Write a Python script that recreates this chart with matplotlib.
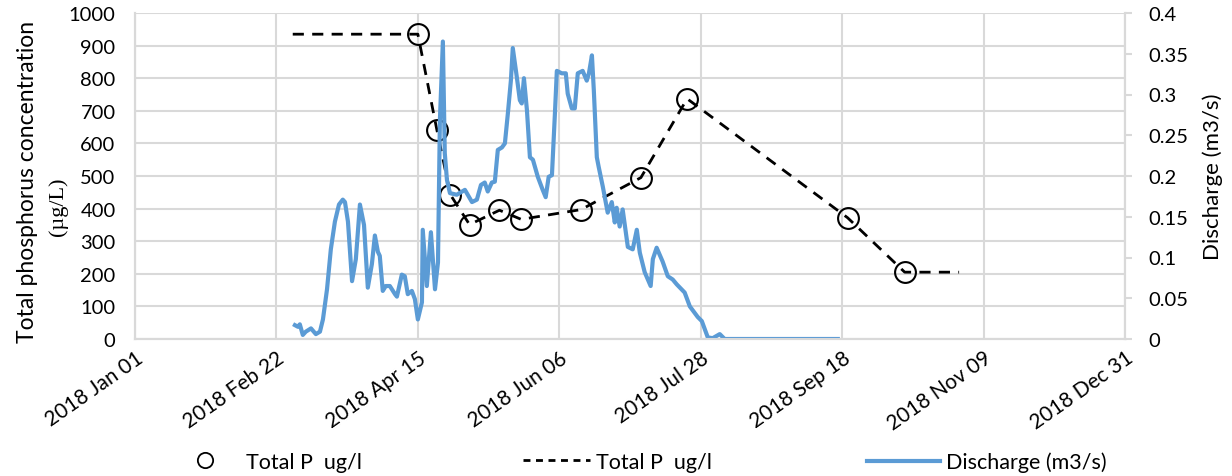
import matplotlib
matplotlib.use("Agg")
import matplotlib.pyplot as plt
import matplotlib.dates as mdates
from matplotlib.lines import Line2D
import numpy as np
import pandas as pd

plt.rcParams['font.family'] = ['Lato', 'DejaVu Sans']

# ---- data ----
start = pd.Timestamp("2018-01-01")

# total phosphorus samples (ug/l)
tp_dates = ["2018-04-15", "2018-04-22", "2018-04-27", "2018-05-04", "2018-05-15",
            "2018-05-23", "2018-06-14", "2018-07-06", "2018-07-23", "2018-09-20",
            "2018-10-11"]
tp_values = [935, 641, 442, 351, 395, 367, 397, 495, 737, 372, 205]

# dashed line: same samples plus flat ends
tp_line_dates = ["2018-02-28"] + tp_dates + ["2018-10-31"]
tp_line_values = [935] + tp_values + [205]

# discharge (m3/s), day offset from Jan 01
q_day = [58.8, 59.9, 60.6, 61.7, 62.8, 64.7, 66.5, 68.0, 69.1, 70.6, 72.0, 73.5,
         75.0, 76.4, 77.2, 78.3, 79.8, 81.2, 82.7, 84.2, 85.6, 87.1, 88.2, 89.3,
         90.0, 91.1, 92.2, 93.7, 95.6, 96.3, 98.1, 99.2, 100.3, 101.8, 102.9, 104.0,
         105.5, 105.8, 107.3, 108.8, 110.3, 111.4, 112.1, 113.2, 113.9, 114.7, 115.8,
         118.3, 121.3, 123.9, 125.7, 127.2, 128.6, 129.7, 131.2, 132.3, 133.4, 134.9,
         136.0, 137.1, 138.2, 138.9, 140.4, 141.5, 142.2, 143.0, 144.1, 145.2, 146.3,
         148.1, 149.9, 151.0, 152.1, 153.3, 154.4, 155.1, 156.9, 158.4, 159.1, 160.6,
         161.7, 162.8, 164.6, 166.1, 166.9, 168.0, 168.7, 169.8, 170.5, 172.0, 173.8,
         175.3, 176.4, 177.1, 178.2, 179.3, 181.2, 183.0, 184.5, 185.6, 187.4, 189.6,
         190.4, 191.8, 194.0, 195.9, 197.7, 199.2, 202.1, 204.0, 206.9, 208.4, 210.6,
         212.4, 215.0, 216.8, 258.4]
q_val = [0.017, 0.015, 0.018, 0.005, 0.009, 0.013, 0.006, 0.009, 0.024, 0.061, 0.110, 0.144,
         0.165, 0.171, 0.168, 0.144, 0.071, 0.098, 0.165, 0.140, 0.063, 0.092, 0.127, 0.107,
         0.102, 0.059, 0.065, 0.065, 0.055, 0.052, 0.079, 0.077, 0.055, 0.059, 0.049, 0.024,
         0.045, 0.134, 0.065, 0.131, 0.061, 0.094, 0.268, 0.365, 0.228, 0.195, 0.179,
         0.177, 0.183, 0.168, 0.171, 0.189, 0.192, 0.181, 0.192, 0.193, 0.232, 0.235,
         0.240, 0.277, 0.317, 0.357, 0.321, 0.293, 0.289, 0.320, 0.281, 0.223, 0.220,
         0.199, 0.183, 0.174, 0.199, 0.201, 0.277, 0.329, 0.326, 0.326, 0.301, 0.283,
         0.283, 0.326, 0.329, 0.317, 0.326, 0.348, 0.305, 0.223, 0.211, 0.187, 0.155,
         0.168, 0.143, 0.161, 0.138, 0.159, 0.113, 0.110, 0.134, 0.106, 0.082, 0.065,
         0.098, 0.112, 0.095, 0.077, 0.073, 0.067, 0.057, 0.040, 0.027, 0.022, 0.002,
         0.001, 0.006, 0.0, 0.0]

tick_days = [0, 52, 104, 156, 208, 260, 312, 364]

tp_d = pd.to_datetime(tp_dates)
tpl_d = pd.to_datetime(tp_line_dates)
q_d = start + pd.to_timedelta(q_day, unit="D")
ticks = start + pd.to_timedelta(tick_days, unit="D")

grid_c = "#d9d9d9"
blue = "#5b9bd5"

fig = plt.figure(figsize=(12.32, 4.77), dpi=100)
ax = fig.add_axes([135 / 1232, 1 - 340 / 477, 990 / 1232, 326 / 477])
ax2 = ax.twinx()

ax.plot(tpl_d, tp_line_values, color="black", lw=2, ls=(0, (4, 3)), zorder=3)
ax.plot(tp_d, tp_values, ls="none", marker="o", ms=15, mfc="none", mec="black",
        mew=1.5, zorder=4)
ax2.plot(q_d, q_val, color=blue, lw=3, solid_joinstyle="round")

ax.set_xlim(ticks[0], ticks[-1])
ax.set_ylim(0, 1000)
ax.set_yticks(np.arange(0, 1001, 100))
ax2.set_ylim(0, 0.4)
ax2.set_yticks(np.arange(0, 0.401, 0.05))
ax2.set_yticklabels(["0", "0.05", "0.1", "0.15", "0.2", "0.25", "0.3", "0.35", "0.4"])

ax.set_xticks(ticks)
ax.xaxis.set_major_formatter(mdates.DateFormatter("%Y %b %d"))

ax.grid(True, color=grid_c, lw=1.5)
ax.set_axisbelow(True)
for a in (ax, ax2):
    a.spines["top"].set_visible(False)
    for s in ("left", "bottom", "right"):
        a.spines[s].set_color(grid_c)
        a.spines[s].set_linewidth(1.5)
ax.tick_params(axis="y", length=0, labelsize=14.5, pad=14)
ax.tick_params(axis="x", length=0, labelsize=15, pad=6)
plt.setp(ax.get_xticklabels(), rotation=35, ha="right", va="top",
         rotation_mode="anchor")
ax2.tick_params(axis="y", length=5, color=grid_c, width=1.5, labelsize=14.5, pad=12)

fig.text(28 / 1232, 1 - 182 / 477, "Total phosphorus concentration", rotation=90,
         ha="center", va="center", fontsize=16.5)
fig.text(58 / 1232, 1 - 207 / 477, "(\u00b5g/L)", rotation=90, ha="center", va="center",
         fontsize=16, family=["Liberation Serif", "DejaVu Serif"])
ax2.set_ylabel("Discharge (m3/s)", fontsize=16, labelpad=10)

h1 = Line2D([], [], ls="none", marker="o", ms=11, mfc="none", mec="black", mew=1.3)
h2 = Line2D([], [], color="black", lw=2, ls=(0, (2.5, 2)))
h3 = Line2D([], [], color=blue, lw=3)
for h, lab, x, hl in [(h1, "Total P  ug/l", 160, 3.2), (h2, "Total P  ug/l", 512, 3.1),
                      (h3, "Discharge (m3/s)", 856, 3.4)]:
    fig.legend([h], [lab], loc="center left", bbox_to_anchor=(x / 1232, 1 - 463 / 477),
               frameon=False, fontsize=15.5, handlelength=hl, handletextpad=0.3,
               borderpad=0)

fig.savefig("out.png", dpi=100)
